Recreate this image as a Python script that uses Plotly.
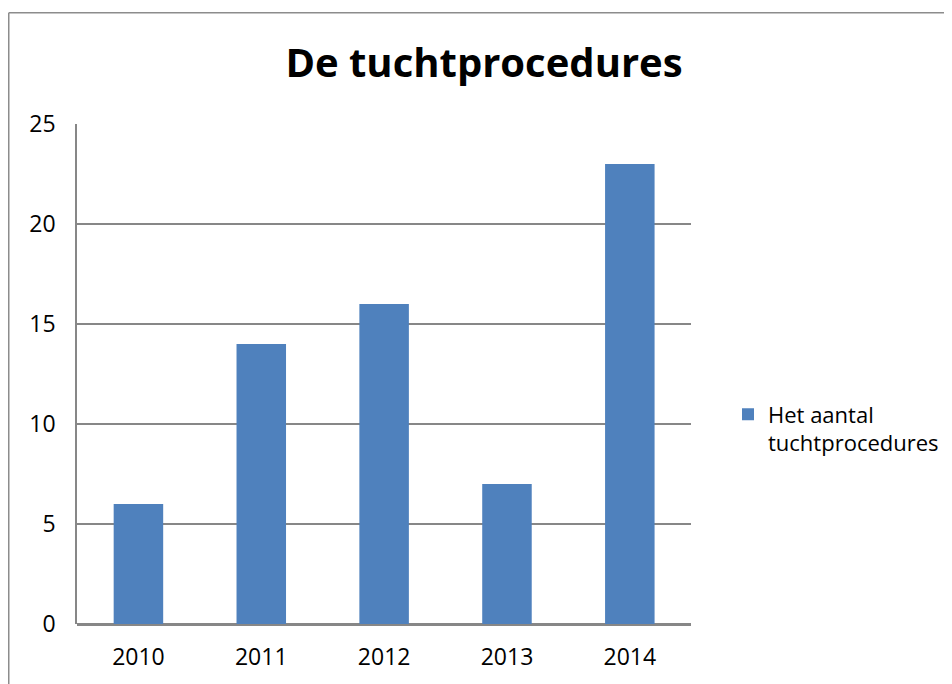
import plotly.graph_objects as go

years = ["2010", "2011", "2012", "2013", "2014"]
values = [6, 14, 16, 7, 23]
series_name = "Het aantal<br>tuchtprocedures"
title_text = "De tuchtprocedures"

# page body has an 8px margin; figure sized so it fills the 952x684 window
W, H = 944, 676
L, R, T, B = 69, 2, 116, 60
plot_w = 614.25                      # width of the bar area in pixels
P = W - L - R                        # paper width
ph = H - T - B

def px_x(px):
    return (px - L) / P

def px_y(py):
    return (H - B - py) / ph

fig = go.Figure()
fig.add_trace(go.Bar(x=years, y=values, name=series_name,
                     marker=dict(color="#4F81BD", line=dict(width=0)),
                     showlegend=True))

fig.update_layout(
    width=W, height=H,
    margin=dict(l=L, r=R, t=T, b=B),
    paper_bgcolor="white", plot_bgcolor="white",
    font=dict(family="Open Sans, Calibri, sans-serif", size=23, color="black"),
    title=dict(text="<b>" + title_text + "</b>", x=px_x(476), xref="paper", xanchor="center",
               y=1 - 55 / H, yanchor="middle",
               font=dict(family="Open Sans", size=40, color="black")),
    bargap=0.597,
    showlegend=True,
    legend=dict(x=px_x(720), y=px_y(421), xanchor="left", yanchor="middle",
                font=dict(size=22), bgcolor="rgba(0,0,0,0)", itemwidth=30,
                valign="top"),
    xaxis=dict(domain=[0, plot_w / P], showgrid=False, showline=False, ticks="",
               tickfont=dict(size=23), ticklabelstandoff=17),
    yaxis=dict(range=[0, 25], dtick=5, showgrid=True, gridcolor="#878787", gridwidth=1.5,
               showline=True, linecolor="#878787", linewidth=1.5, ticks="",
               zeroline=True, zerolinecolor="#878787", zerolinewidth=2.5,
               tickfont=dict(size=23), ticklabelstandoff=15),
    shapes=[
        dict(type="line", xref="paper", yref="paper", x0=px_x(0.75), x1=px_x(960),
             y0=px_y(4.7), y1=px_y(4.7), line=dict(color="#8c8c8c", width=1.5)),
        dict(type="line", xref="paper", yref="paper", x0=px_x(0.75), x1=px_x(0.75),
             y0=px_y(4.7), y1=px_y(700), line=dict(color="#8c8c8c", width=1.5)),
    ],
)

fig.write_html("out.html")
